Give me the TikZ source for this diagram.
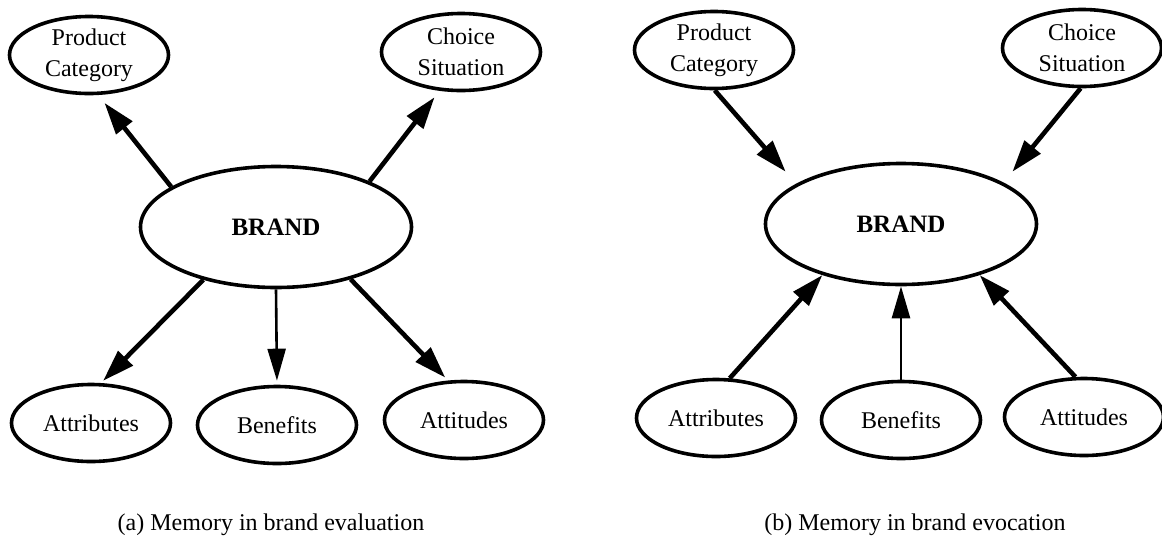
\documentclass[tikz,border=0pt]{standalone}
\usepackage{fontspec}
\setmainfont{Liberation Serif}
\usetikzlibrary{shapes.geometric,arrows.meta}
\begin{document}
\begin{tikzpicture}[x=0.5pt,y=-0.5pt,
  concept/.style={ellipse,draw,line width=1.8pt,inner sep=0pt,
    minimum width=79.5pt,minimum height=38.5pt,align=center,
    font=\fontsize{12}{15.5}\selectfont},
  brandnode/.style={concept,minimum width=135.5pt,minimum height=60.5pt,
    font=\fontsize{12.5}{15}\selectfont\bfseries},
  link/.style={line width=2.3pt,-{Triangle[length=16pt,width=10pt]}},
  thinlink/.style={line width=1.3pt,-{Triangle[length=16pt,width=9pt]}},
  caption/.style={font=\fontsize{12}{14}\selectfont}]
\useasboundingbox (0,0) rectangle (1162,542);

% (a) brand evaluation: the brand points to its associations
\node[concept]   (aPC) at (89,55)   {Product\\Category};
\node[concept]   (aCS) at (461,52)  {Choice\\Situation};
\node[brandnode] (aBR) at (276,227) {BRAND};
\node[concept]   (aAr) at (91,423)  {Attributes};
\node[concept]   (aBe) at (277,425) {Benefits};
\node[concept]   (aAt) at (464,420) {Attitudes};

\draw[link, shorten >=5pt] (aBR.159) -- (aPC.283);
\draw[link, shorten >=4pt] (aBR.26) -- (aCS.241);
\draw[link, shorten >=1.5pt] (aBR.216) -- (aAr.76);
\draw[thinlink, shorten >=2pt] (aBR.270) -- (aBe.90);
\draw[link, shorten >=2pt] (aBR.325) -- (aAt.112);

\node[caption] (capA) at (271,525) {(a) Memory in brand evaluation};

% (b) brand evocation: the associations point to the brand
\node[concept]   (bPC) at (714,50)  {Product\\Category};
\node[concept]   (bCS) at (1082,48) {Choice\\Situation};
\node[brandnode] (bBR) at (901,224) {BRAND};
\node[concept]   (bAr) at (716,418) {Attributes};
\node[concept]   (bBe) at (901,420) {Benefits};
\node[concept]   (bAt) at (1084,417) {Attitudes};

\draw[link, shorten >=8pt] (bPC.271) -- (bBR.159);
\draw[link, shorten >=7pt] (bCS.268) -- (bBR.22);
\draw[link] (bAr.71) -- (bBR.213);
\draw[thinlink] (bBe.90) -- (bBR.270);
\draw[link] (bAt.102) -- (bBR.327);

\node[caption] (capB) at (915,525) {(b) Memory in brand evocation};
\end{tikzpicture}
\end{document}
